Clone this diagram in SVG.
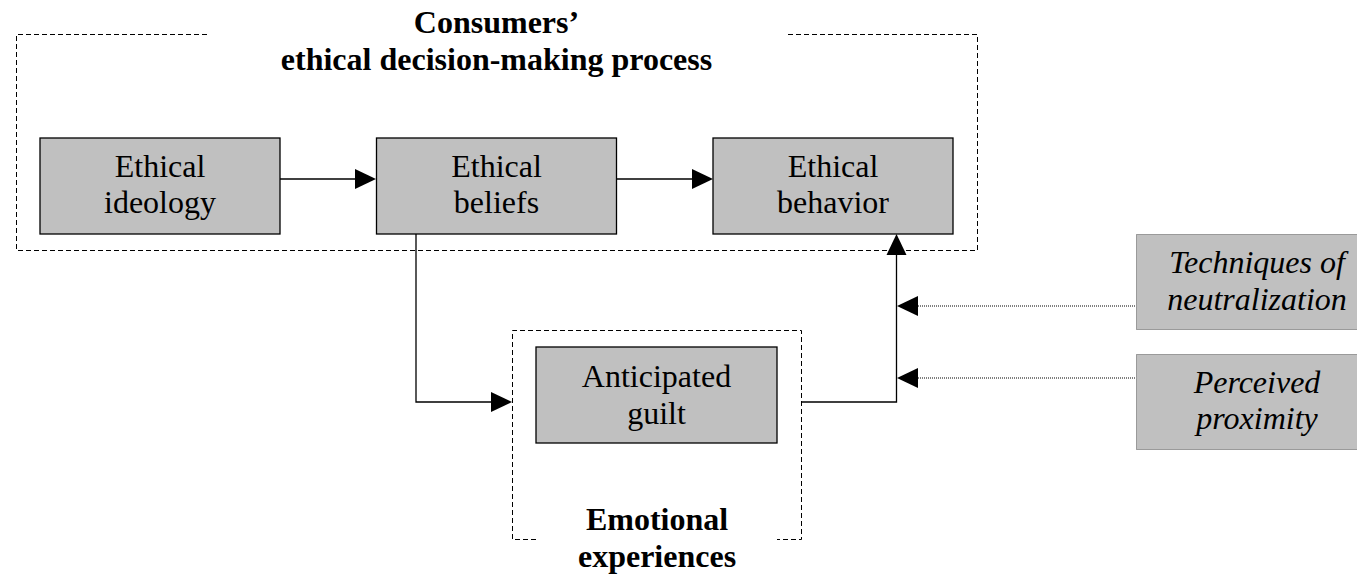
<svg xmlns="http://www.w3.org/2000/svg" width="1357" height="577" viewBox="0 0 1357 577">
<style>
.node{fill:#c0c0c0;stroke:#000;stroke-width:1.3}
.side{fill:#c0c0c0;stroke:#555;stroke-width:1;stroke-dasharray:1,1}
.grp{fill:none;stroke:#000;stroke-width:1;stroke-dasharray:5,3}
.t{font-family:"Liberation Serif","Times New Roman",serif;font-size:32px;fill:#000;text-anchor:middle}
.b{font-weight:bold}
.i{font-style:italic}
.ln{fill:none;stroke:#000;stroke-width:1.3}
.dl{fill:none;stroke:#000;stroke-width:1;stroke-dasharray:1,1}
.ah{fill:#000}
</style>
<rect width="1357" height="577" fill="#fff"/>
<g id="group-process">
<path class="grp" d="M207,34.5 H16.5 V250.5 H977.5 V34.5 H785"/>
<text class="t b" x="496.5" y="33">Consumers’</text>
<text class="t b" x="496.5" y="70">ethical decision-making process</text>
</g>
<g id="group-emotional">
<path class="grp" d="M536,539.5 H512.5 V330.5 H801.5 V539.5 H777"/>
<text class="t b" x="657" y="530">Emotional</text>
<text class="t b" x="657" y="567">experiences</text>
</g>
<g id="connectors">
<line class="ln" x1="280" y1="179" x2="356" y2="179"/>
<polygon class="ah" points="376,179 355,169 355,189"/>
<line class="ln" x1="617" y1="179" x2="693" y2="179"/>
<polygon class="ah" points="713,179 692,169 692,189"/>
<polyline class="ln" points="416,234 416,402 493,402"/>
<polygon class="ah" points="512,402 491,392 491,412"/>
<polyline class="ln" points="801,402 896.5,402 896.5,254"/>
<polygon class="ah" points="896.5,234 886.5,255 906.5,255"/>
<line class="dl" x1="918" y1="306" x2="1136" y2="306"/>
<polygon class="ah" points="897,306 918,296 918,316"/>
<line class="dl" x1="918" y1="378" x2="1136" y2="378"/>
<polygon class="ah" points="897,378 918,368 918,388"/>
</g>
<g id="node-ideology">
<rect class="node" x="40" y="138" width="240" height="96"/>
<text class="t" x="160" y="177">Ethical</text>
<text class="t" x="160" y="213">ideology</text>
</g>
<g id="node-beliefs">
<rect class="node" x="376.5" y="138" width="240" height="96"/>
<text class="t" x="496.5" y="177">Ethical</text>
<text class="t" x="496.5" y="213">beliefs</text>
</g>
<g id="node-behavior">
<rect class="node" x="713" y="138" width="240" height="96"/>
<text class="t" x="833" y="177">Ethical</text>
<text class="t" x="833" y="213">behavior</text>
</g>
<g id="node-guilt">
<rect class="node" x="536" y="347" width="241" height="96"/>
<text class="t" x="656.5" y="387">Anticipated</text>
<text class="t" x="656.5" y="424">guilt</text>
</g>
<g id="node-techniques">
<rect class="side" x="1136.5" y="234.5" width="230" height="95"/>
<text class="t i" x="1257" y="273">Techniques of</text>
<text class="t i" x="1257" y="310">neutralization</text>
</g>
<g id="node-proximity">
<rect class="side" x="1136.5" y="354.5" width="230" height="95"/>
<text class="t i" x="1257" y="393">Perceived</text>
<text class="t i" x="1257" y="429">proximity</text>
</g>
</svg>
